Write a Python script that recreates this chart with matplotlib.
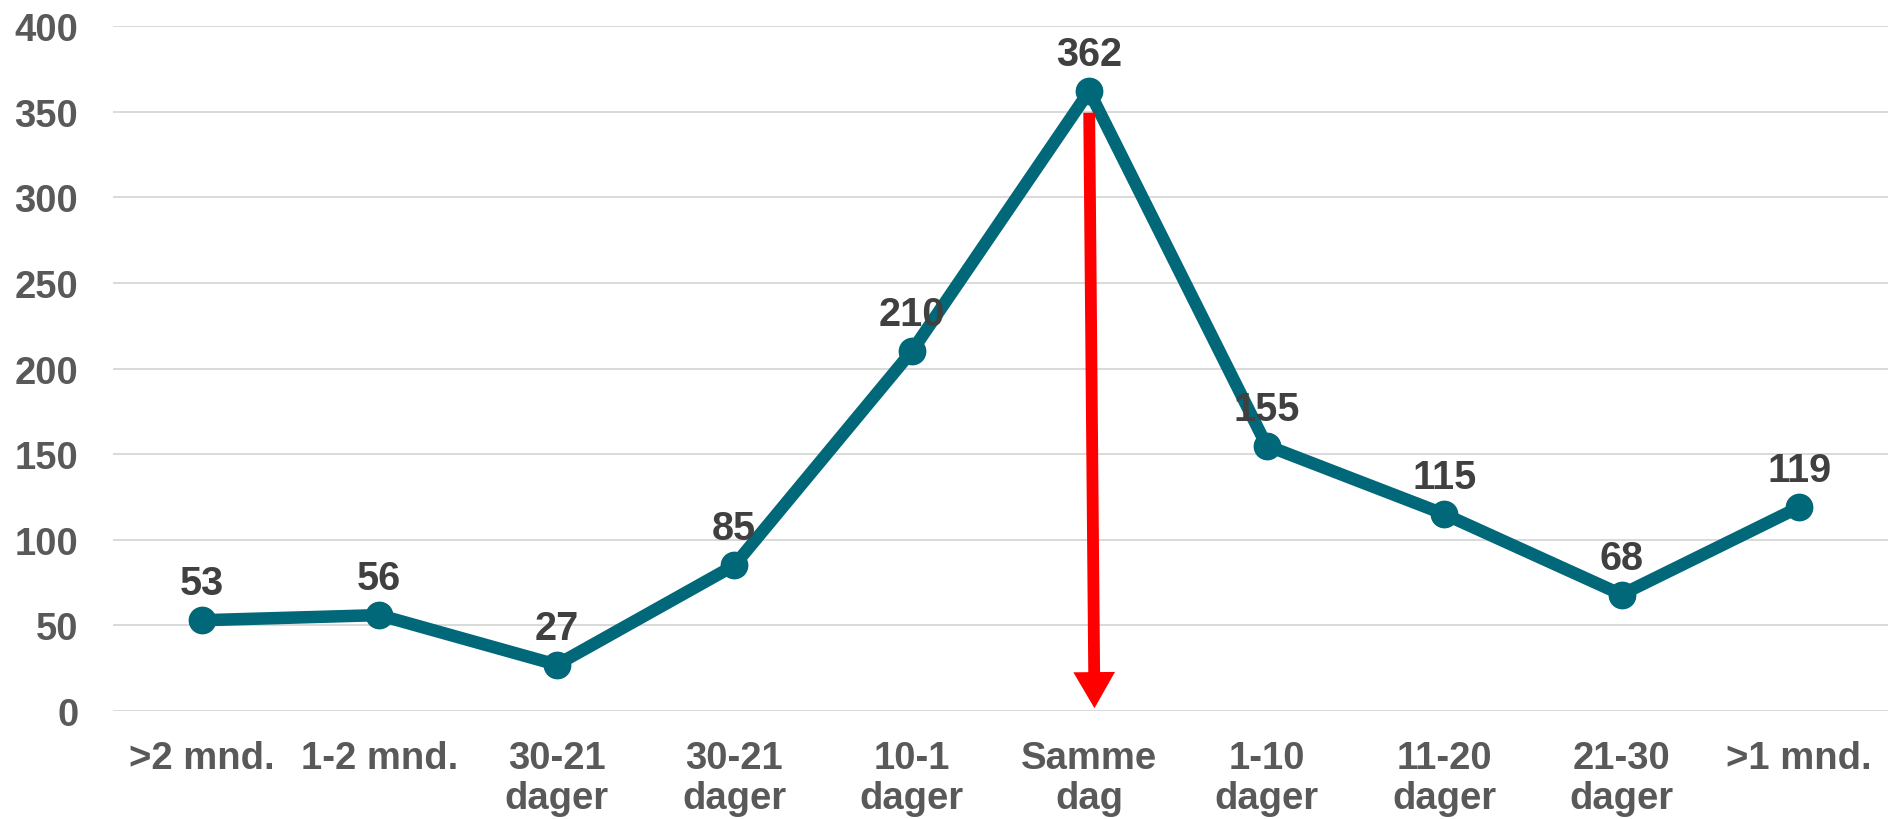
import matplotlib.pyplot as plt
from matplotlib.patches import FancyArrowPatch

categories = [">2 mnd.", "1-2 mnd.", "30-21\ndager", "30-21\ndager", "10-1\ndager",
              "Samme\ndag", "1-10\ndager", "11-20\ndager", "21-30\ndager", ">1 mnd."]
values = [53, 56, 27, 85, 210, 362, 155, 115, 68, 119]
y_ticks = [0, 50, 100, 150, 200, 250, 300, 350, 400]

plt.rcParams["font.family"] = ["Liberation Sans", "DejaVu Sans"]
plt.rcParams["font.weight"] = "bold"

line_color = "#006878"
tick_color = "#595959"
label_color = "#404040"
fsize = 27.5

fig = plt.figure(figsize=(18.88, 8.2), dpi=100)
ax = fig.add_axes([0.0599, 0.1317, 0.94, 0.8353])

x = list(range(len(categories)))
ax.plot(x, values, color=line_color, linewidth=9, marker="o", markersize=19,
        solid_joinstyle="round", zorder=3)

for xi, v in zip(x, values):
    ax.annotate(str(v), (xi, v), xytext=(0, 13), textcoords="offset points",
                ha="center", va="bottom", fontsize=fsize + 1, fontweight="bold",
                color=label_color, zorder=4)

# red arrow from the peak down to the axis
peak = values.index(max(values))
arrow = FancyArrowPatch((peak, 351), (peak + 0.03, 0),
                        arrowstyle="simple,head_length=26,head_width=30,tail_width=8.5",
                        mutation_scale=1, color="#FF0000", linewidth=0, zorder=5)
ax.add_patch(arrow)

ax.set_xlim(-0.5, len(categories) - 0.5)
ax.set_ylim(0, 400)
ax.set_yticks(y_ticks)
ax.set_xticks(x)
ax.set_xticklabels(categories, linespacing=1.12)
ax.tick_params(axis="both", length=0, labelsize=fsize, labelcolor=tick_color)
ax.tick_params(axis="x", pad=21)
ax.tick_params(axis="y", pad=25)
for lbl in ax.get_xticklabels() + ax.get_yticklabels():
    lbl.set_fontweight("bold")

ax.grid(axis="y", color="#D9D9D9", linewidth=1.4)
ax.set_axisbelow(True)
for s in ax.spines.values():
    s.set_visible(False)

fig.savefig("out.png", dpi=100)
